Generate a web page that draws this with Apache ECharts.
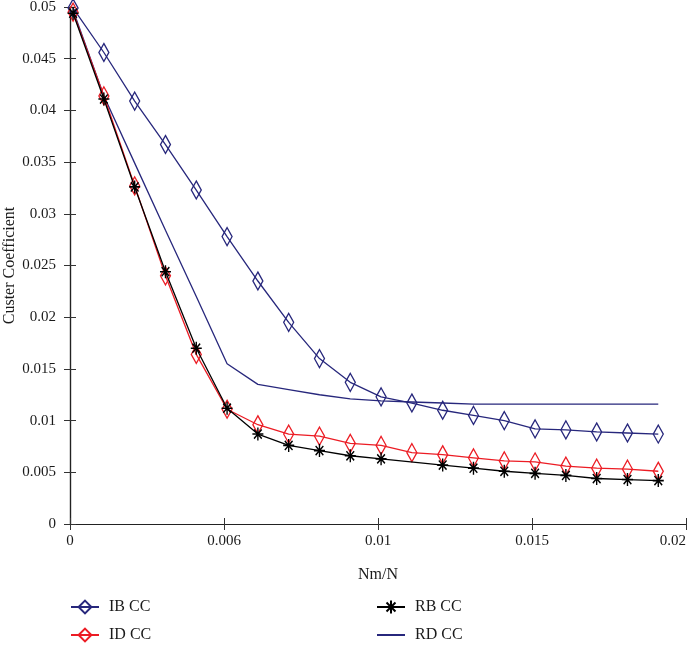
<!DOCTYPE html>
<html>
<head>
<meta charset="utf-8">
<script src="https://cdn.jsdelivr.net/npm/echarts@6/dist/echarts.min.js"></script>
<style>
html,body{margin:0;padding:0;background:#fff;}
#chart{width:688px;height:647px;}
</style>
</head>
<body>
<div id="chart"></div>
<script>
// Data
const xValues = [0.0001, 0.0011, 0.0021, 0.0031, 0.0041, 0.0051, 0.0061, 0.0071, 0.0081, 0.0091,
                 0.0101, 0.0111, 0.0121, 0.0131, 0.0141, 0.0151, 0.0161, 0.0171, 0.0181, 0.0191];
const ibCC = [0.0499, 0.0456, 0.0409, 0.0367, 0.0323, 0.0278, 0.0235, 0.0195, 0.0160, 0.0137,
              0.0123, 0.0117, 0.0110, 0.0105, 0.0100, 0.0092, 0.0091, 0.0089, 0.0088, 0.0087];
const idCC = [0.0495, 0.0414, 0.0327, 0.0240, 0.0164, 0.0111, 0.0096, 0.0087, 0.0085, 0.0078,
              0.0076, 0.0069, 0.0067, 0.0064, 0.0061, 0.0060, 0.0056, 0.0054, 0.0053, 0.0051];
const rbCC = [0.0494, 0.0411, 0.0326, 0.0244, 0.0170, 0.0112, 0.0087, 0.0076, 0.0071, 0.0066,
              0.0063, null, 0.0057, 0.0054, 0.0051, 0.0049, 0.0047, 0.0044, 0.0043, 0.0042];
const rdCC = [0.0497, 0.0414, 0.0349, 0.0284, 0.0220, 0.0155, 0.0135, 0.0130, 0.0125, 0.0121,
              0.0119, 0.0118, 0.0117, 0.0116, 0.0116, 0.0116, 0.0116, 0.0116, 0.0116, 0.0116];
const seriesNames = ['IB CC', 'ID CC', 'RB CC', 'RD CC'];
const xTickLabels = ['0', '0.006', '0.01', '0.015', '0.02'];
const xAxisTitle = 'Nm/N';
const yAxisTitle = 'Custer Coefficient';

const NAVY = '#27277c';
const RED = '#ec1c24';
const BLACK = '#000000';
const FONT = 'Liberation Serif';
const FS = 16;
const TICK_FS = 15;
const TXT = '#1a1a1a';

function pairs(ys) { return xValues.map((x, i) => [x, ys[i]]); }

const asterisk = 'path://M5,0 L5,10 M0,5 L10,5 M1.5,1.5 L8.5,8.5 M8.5,1.5 L1.5,8.5';

const chart = echarts.init(document.getElementById('chart'), null, {renderer: 'canvas'});
const axisLineStyle = {color: '#222', width: 1.2};
const legendCommon = {
  orient: 'vertical', top: 599, padding: 0,
  itemWidth: 28, itemHeight: 16, itemGap: 12,
  textStyle: {fontFamily: FONT, fontSize: FS, color: TXT, padding: [0, 0, 0, 5]}
};
chart.setOption({
  animation: false,
  backgroundColor: '#fff',
  grid: {left: 70, right: 2, top: 7, bottom: 123, containLabel: false, outerBoundsMode: 'none'},
  legend: [
    Object.assign({}, legendCommon, {left: 70, data: [seriesNames[0], seriesNames[1]]}),
    Object.assign({}, legendCommon, {left: 376, data: [seriesNames[2], {name: seriesNames[3], itemStyle: {opacity: 0}}]})
  ],
  xAxis: [
    {
      type: 'value', min: 0, max: 0.02, interval: 0.005, position: 'bottom',
      name: xAxisTitle, nameLocation: 'middle', nameGap: 43, nameMoveOverlap: false,
      nameTextStyle: {fontFamily: FONT, fontSize: FS, color: TXT},
      axisLine: {show: true, lineStyle: axisLineStyle},
      axisTick: {show: true, inside: true, length: 6, lineStyle: {color: '#333'}},
      axisLabel: {
        fontFamily: FONT, fontSize: TICK_FS, color: TXT, margin: 10,
        alignMaxLabel: 'right',
        formatter: v => xTickLabels[Math.round(v / 0.005)]
      },
      splitLine: {show: false}
    },
    {
      type: 'value', min: 0, max: 0.02, interval: 0.005, position: 'top',
      axisLine: {show: true, lineStyle: axisLineStyle},
      axisTick: {show: true, inside: true, length: 6, lineStyle: {color: '#333'}},
      axisLabel: {show: false}, splitLine: {show: false}
    }
  ],
  yAxis: [
    {
      type: 'value', min: 0, max: 0.05, interval: 0.005, position: 'left',
      name: yAxisTitle, nameLocation: 'middle', nameGap: 52, nameMoveOverlap: false,
      nameTextStyle: {fontFamily: FONT, fontSize: FS, color: TXT},
      axisLine: {show: true, lineStyle: axisLineStyle},
      axisTick: {show: true, inside: true, length: 6, lineStyle: {color: '#333'}},
      axisLabel: {fontFamily: FONT, fontSize: TICK_FS, color: TXT, margin: 14},
      splitLine: {show: false}
    },
    {
      type: 'value', min: 0, max: 0.05, interval: 0.005, position: 'right',
      axisLine: {show: true, lineStyle: axisLineStyle},
      axisTick: {show: true, inside: true, length: 6, lineStyle: {color: '#333'}},
      axisLabel: {show: false}, splitLine: {show: false}
    }
  ],
  series: [
    {
      name: seriesNames[0], type: 'line', data: pairs(ibCC), clip: false,
      symbol: 'diamond', symbolSize: [10, 18], showAllSymbol: true,
      lineStyle: {color: NAVY, width: 1.3},
      itemStyle: {color: 'rgba(255,255,255,0)', borderColor: NAVY, borderWidth: 1.4},
      z: 3
    },
    {
      name: seriesNames[1], type: 'line', data: pairs(idCC), clip: false,
      symbol: 'diamond', symbolSize: [10, 18], showAllSymbol: true,
      lineStyle: {color: RED, width: 1.3},
      itemStyle: {color: 'rgba(255,255,255,0)', borderColor: RED, borderWidth: 1.4},
      z: 4
    },
    {
      name: seriesNames[2], type: 'line', data: pairs(rbCC), clip: false, connectNulls: true,
      symbol: asterisk, symbolSize: [11, 13], showAllSymbol: true,
      lineStyle: {color: BLACK, width: 1.3},
      itemStyle: {color: BLACK, borderColor: BLACK, borderWidth: 1.5},
      z: 5
    },
    {
      name: seriesNames[3], type: 'line', data: pairs(rdCC), clip: false,
      symbol: 'none',
      lineStyle: {color: NAVY, width: 1.3},
      itemStyle: {color: NAVY},
      z: 2
    }
  ]
});
</script>
</body>
</html>
